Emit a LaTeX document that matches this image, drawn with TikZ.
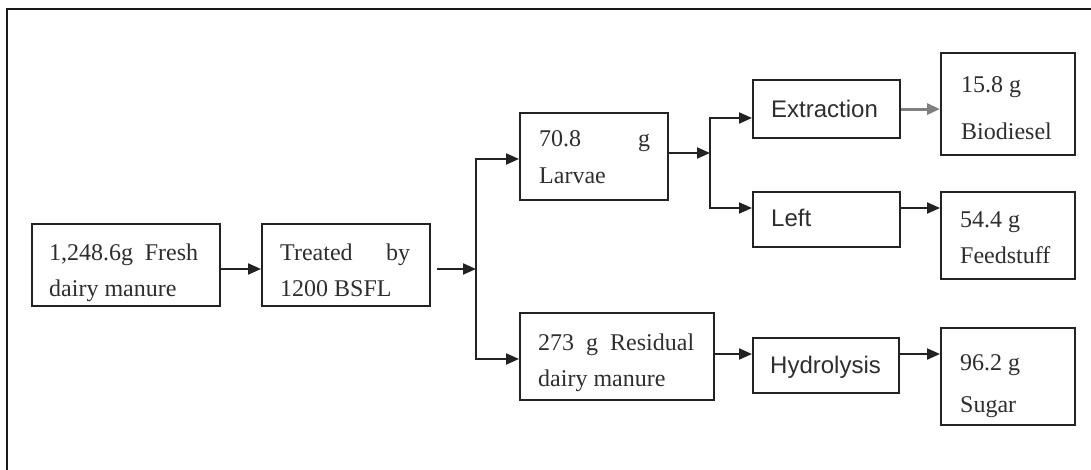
\documentclass[tikz,border=0pt]{standalone}
\usepackage{fontspec}
\setmainfont{Liberation Serif}
\newfontfamily\sansf{Liberation Sans}
\usetikzlibrary{arrows.meta}
\definecolor{ink}{HTML}{222222}
\definecolor{txt}{HTML}{2E2E2E}
\begin{document}
\begin{tikzpicture}[x=1pt,y=-1pt,
  box/.style={draw=ink, line width=2.1pt, inner sep=0pt, anchor=north west},
  lbl/.style={anchor=base west, inner sep=0pt, text=txt, font=\fontsize{24}{36}\selectfont},
  slbl/.style={lbl, font=\sansf\fontsize{24}{36}\selectfont},
  arr/.style={draw=ink, line width=2.1pt, -{Triangle[length=13pt,width=11pt]}},
  garr/.style={arr, draw=black!50, line width=3pt}]
\useasboundingbox (0,0) rectangle (1091,470);
% frame
\draw[line width=2.6pt, draw=black!90] (1092,9) -- (7,9) -- (7,471);
% boxes
\node[box, minimum width=188pt, minimum height=82pt] (fresh) at (31,223) {};
\node[box, minimum width=168pt, minimum height=82pt] (treated) at (261,223) {};
\node[box, minimum width=148pt, minimum height=87pt] (larvae) at (519,112) {};
\node[box, minimum width=194pt, minimum height=87pt] (resid) at (519,312) {};
\node[box, minimum width=147pt, minimum height=58pt] (extr) at (752,79) {};
\node[box, minimum width=147pt, minimum height=55pt] (left) at (752,191) {};
\node[box, minimum width=146pt, minimum height=55pt] (hydro) at (752,337) {};
\node[box, minimum width=134pt, minimum height=102pt] (bio) at (940,52) {};
\node[box, minimum width=134pt, minimum height=87pt] (feed) at (940,191) {};
\node[box, minimum width=134pt, minimum height=97pt] (sugar) at (940,327) {};
% texts
\node[lbl] (fresh1) at (49,260) {\hbox to 149pt{1,248.6g\hfill Fresh}};
\node[lbl] (fresh2) at (49,296) {dairy manure};
\node[lbl] (treated1) at (280,260) {\hbox to 130pt{Treated\hfill by}};
\node[lbl] (treated2) at (280,296) {1200 BSFL};
\node[lbl] (larvae1) at (539,147) {\hbox to 111pt{70.8\hfill g}};
\node[lbl] (larvae2) at (539,184) {Larvae};
\node[lbl] (resid1) at (538,350) {\hbox to 156pt{273\hfill g\hfill Residual}};
\node[lbl] (resid2) at (538,386) {dairy manure};
\node[slbl] (extrt) at (771,118) {Extraction};
\node[slbl] (leftt) at (771,226) {Left};
\node[slbl] (hydrot) at (770,373) {Hydrolysis};
\node[lbl] (bio1) at (961,93) {15.8 g};
\node[lbl] (bio2) at (961,140) {Biodiesel};
\node[lbl] (feed1) at (960,228) {54.4 g};
\node[lbl] (feed2) at (960,263) {Feedstuff};
\node[lbl] (sugar1) at (960,370) {96.2 g};
\node[lbl] (sugar2) at (960,412) {Sugar};
% junctions
\coordinate (j1) at (476,269);
\coordinate (j1t) at (476,159);
\coordinate (j1b) at (476,359);
\coordinate (j2) at (710,153);
\coordinate (j2t) at (710,118);
\coordinate (j2b) at (710,208);
% connectors
\draw[arr] (fresh.east |- j1) -- (treated.west |- j1);
\draw[arr, shorten <=6pt] (treated.east |- j1) -- (j1);
\draw[arr] (j1) -- (j1t) -- (larvae.west |- j1t);
\draw[arr] (j1) -- (j1b) -- (resid.west |- j1b);
\draw[arr] (larvae.east |- j2) -- (j2);
\draw[arr] (j2) -- (j2t) -- (extr.west |- j2t);
\draw[arr] (j2) -- (j2b) -- (left.west |- j2b);
\draw[garr] (extr.east) -- (bio.west |- extr.east);
\draw[arr] (left.east |- j2b) -- (feed.west |- j2b);
\coordinate (r) at (713,354);
\draw[arr] (resid.east |- r) -- (hydro.west |- r);
\draw[arr] (hydro.east |- r) -- (sugar.west |- r);
\end{tikzpicture}
\end{document}
